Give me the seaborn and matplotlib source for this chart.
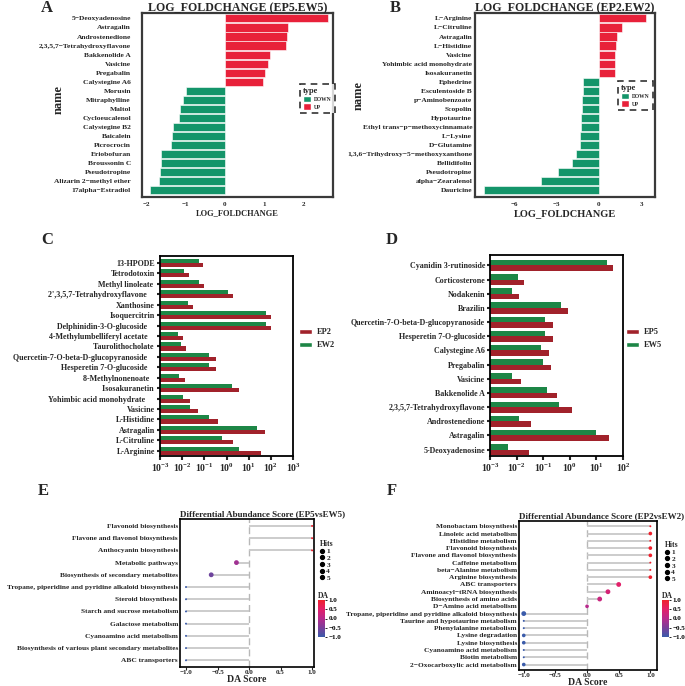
import numpy as np
import pandas as pd
import matplotlib
matplotlib.use('Agg')
import matplotlib.pyplot as plt
import seaborn as sns
from matplotlib.patches import Patch
from matplotlib.lines import Line2D
from matplotlib.colors import LinearSegmentedColormap, Normalize
from matplotlib.cm import ScalarMappable

sns.set_style('white')
plt.rcParams['font.family'] = ['Liberation Serif', 'DejaVu Serif']
plt.rcParams['font.weight'] = 'bold'
plt.rcParams['axes.labelweight'] = 'bold'
plt.rcParams['axes.titleweight'] = 'bold'
plt.rcParams['mathtext.fontset'] = 'custom'
plt.rcParams['mathtext.bf'] = 'Liberation Serif:bold'
plt.rcParams['mathtext.rm'] = 'Liberation Serif:bold'

# ---------------- data ----------------
# A: log fold change EP5 vs EW5
a_names = ['5−Deoxyadenosine', 'Astragalin', 'Androstenedione', '2,3,5,7−Tetrahydroxyflavone',
           'Bakkenolide A', 'Vasicine', 'Pregabalin', 'Calystegine A6', 'Morusin', 'Mitraphylline',
           'Maltol', 'Cycloeucalenol', 'Calystegine B2', 'Baicalein', 'Picrocrocin', 'Eriobofuran',
           'Broussonin C', 'Pseudotropine', 'Alizarin 2−methyl ether', '17alpha−Estradiol']
a_lfc = [2.64, 1.62, 1.59, 1.56, 1.15, 1.09, 1.02, 0.98, -1.00, -1.07,
         -1.15, -1.17, -1.33, -1.36, -1.39, -1.63, -1.63, -1.66, -1.68, -1.91]

# B: log fold change EP2 vs EW2
b_names = ['L−Arginine', 'L−Citruline', 'Astragalin', 'L−Histidine', 'Vasicine',
           'Yohimbic acid monohydrate', 'Isosakuranetin', 'Ephedrine', 'Esculentoside B',
           'p−Aminobenzoate', 'Scopolin', 'Hypotaurine', 'Ethyl trans−p−methoxycinnamate',
           'L−Lysine', 'D−Glutamine', '1,3,6−Trihydroxy−5−methoxyxanthone', 'Bellidifolin',
           'Pseudotropine', 'alpha−Zearalenol', 'Dauricine']
b_lfc = [3.33, 1.65, 1.25, 1.20, 1.16, 1.16, 1.16, -1.13, -1.16, -1.18,
         -1.23, -1.25, -1.30, -1.32, -1.35, -1.63, -1.89, -2.91, -4.14, -8.18]

# C: abundance EP2 / EW2
c_names = ['13-HPODE', 'Tetrodotoxin', 'Methyl linoleate ', "2',3,5,7-Tetrahydroxyflavone    ",
           'Xanthosine', 'Isoquercitrin', 'Delphinidin-3-O-glucoside    ',
           '4-Methylumbelliferyl acetate    ', 'Taurolithocholate ',
           'Quercetin-7-O-beta-D-glucopyranoside    ', 'Hesperetin 7-O-glucoside    ',
           '8-Methylnonenoate   ', 'Isosakuranetin ', 'Yohimbic acid monohydrate     ',
           'Vasicine', 'L-Histidine', 'Astragalin', 'L-Citruline', 'L-Arginine']
c_ew2 = [0.058, 0.012, 0.058, 1.12, 0.018, 59, 59, 0.0063, 0.0085, 0.17,
         0.17, 0.0069, 1.7, 0.011, 0.023, 0.17, 23, 0.65, 3.5]
c_ep2 = [0.089, 0.021, 0.10, 1.95, 0.032, 102, 102, 0.011, 0.015, 0.32,
         0.32, 0.013, 3.6, 0.023, 0.051, 0.40, 52, 1.95, 35]

# D: abundance EP5 / EW5
d_names = ['Cyanidin 3-rutinoside', 'Corticosterone', 'Nodakenin', 'Brazilin',
           'Quercetin-7-O-beta-D-glucopyranoside', 'Hesperetin 7-O-glucoside', 'Calystegine A6',
           'Pregabalin', 'Vasicine', 'Bakkenolide A', '2,3,5,7-Tetrahydroxyflavone',
           'Androstenedione', 'Astragalin', '5-Deoxyadenosine']
d_ew5 = [25, 0.011, 0.0066, 0.46, 0.12, 0.12, 0.083, 0.095, 0.0069, 0.14, 0.40, 0.012, 9.5, 0.0049]
d_ep5 = [41, 0.019, 0.012, 0.87, 0.23, 0.23, 0.17, 0.19, 0.015, 0.34, 1.17, 0.036, 29, 0.030]

# E: DA score EP5 vs EW5
e_names = ['Flavonoid biosynthesis', 'Flavone and flavonol biosynthesis', 'Anthocyanin biosynthesis',
           'Metabolic pathways', 'Biosynthesis of secondary metabolites',
           'Tropane, piperidine and pyridine alkaloid biosynthesis', 'Steroid biosynthesis',
           'Starch and sucrose metabolism', 'Galactose metabolism', 'Cyanoamino acid metabolism',
           'Biosynthesis of various plant secondary metabolites', 'ABC transporters']
e_da = [1.0, 1.0, 1.0, -0.2, -0.6, -1.0, -1.0, -1.0, -1.0, -1.0, -1.0, -1.0]
e_hits = [1, 1, 1, 3, 3, 1, 1, 1, 1, 1, 1, 1]

# F: DA score EP2 vs EW2
f_names = ['Monobactam biosynthesis', 'Linoleic acid metabolism', 'Histidine metabolism',
           'Flavonoid biosynthesis', 'Flavone and flavonol biosynthesis', 'Caffeine metabolism',
           'beta−Alanine metabolism', 'Arginine biosynthesis', 'ABC transporters',
           'Aminoacyl−tRNA biosynthesis', 'Biosynthesis of amino acids', 'D−Amino acid metabolism',
           'Tropane, piperidine and pyridine alkaloid biosynthesis',
           'Taurine and hypotaurine metabolism', 'Phenylalanine metabolism', 'Lysine degradation',
           'Lysine biosynthesis', 'Cyanoamino acid metabolism', 'Biotin metabolism',
           '2−Oxocarboxylic acid metabolism']
f_da = [1.0, 1.0, 1.0, 1.0, 1.0, 1.0, 1.0, 1.0, 0.5, 0.33, 0.2, 0.0,
        -1.0, -1.0, -1.0, -1.0, -1.0, -1.0, -1.0, -1.0]
f_hits = [1, 2, 1, 2, 2, 1, 1, 2, 3, 3, 3, 2, 3, 1, 1, 2, 2, 1, 1, 2]

hits_levels = [1, 2, 3, 4, 5]
da_ticks = [1.0, 0.5, 0.0, -0.5, -1.0]

# ---------------- style ----------------
RED = '#E8213A'
GREEN = '#14956A'
EP_RED = '#A1222B'
EW_GREEN = '#1D8646'
da_cmap = LinearSegmentedColormap.from_list(
    'da', ['#3A5BAA', '#7B3E9A', '#B82A8C', '#E2206A', '#F0202C'])
da_norm = Normalize(-1, 1)

W, H = 685, 686
fig = plt.figure(figsize=(W / 100, H / 100), dpi=100)


def add_ax(x0, y0, x1, y1):
    return fig.add_axes([x0 / W, 1 - y1 / H, (x1 - x0) / W, (y1 - y0) / H])


def lfc_panel(ax, names, lfc, title, xticks, xlim, xlabel_size, ylab_pad, name_xy, legend_xy):
    df = pd.DataFrame({'name': names, 'lfc': lfc})
    df['type'] = np.where(df['lfc'] > 0, 'UP', 'DOWN')
    sns.barplot(data=df, x='lfc', y='name', hue='type', dodge=False, orient='h',
                palette={'UP': RED, 'DOWN': GREEN}, width=0.9, saturation=1,
                edgecolor='white', linewidth=0.4, legend=False, ax=ax)
    ax.set_xlim(*xlim)
    ax.set_ylim(len(names) - 1 + 0.75, -0.6)
    ax.set_xticks(xticks)
    ax.tick_params(axis='x', labelsize=5, length=2, width=0.8, pad=1.5)
    ax.tick_params(axis='y', labelsize=5.4, length=0, pad=ylab_pad)
    for s in ax.spines.values():
        s.set_color('#3a3a3a')
        s.set_linewidth(1.6)
    ax.set_title(title, fontsize=8.6, pad=1.5)
    ax.set_xlabel('LOG_FOLDCHANGE', fontsize=xlabel_size, labelpad=2)
    ax.set_ylabel('name', fontsize=9)
    x0, y0 = ax.get_position().x0 * W, (1 - ax.get_position().y1) * H
    ax.yaxis.set_label_coords((name_xy[0] - x0) / ax.bbox.width * 1.0,
                              1 - (name_xy[1] - y0) / ax.bbox.height)
    leg = ax.legend(handles=[Patch(facecolor=GREEN, label='DOWN'), Patch(facecolor=RED, label='UP')],
                    title='type', loc='upper left', bbox_to_anchor=(legend_xy[0] / W, 1 - legend_xy[1] / H),
                    bbox_transform=fig.transFigure, fontsize=4, title_fontsize=6,
                    handlelength=1.4, handleheight=1.4, handletextpad=0.6, labelspacing=0.2,
                    borderpad=0.55, fancybox=False, alignment='left')
    fr = leg.get_frame()
    fr.set_linestyle((0, (4, 3)))
    fr.set_edgecolor('black')
    fr.set_linewidth(1.2)


def abundance_panel(ax, names, ep, ew, ep_lab, ew_lab, decades, legend_xy):
    df = pd.DataFrame({'name': names * 2, 'value': ew + ep,
                       'group': [ew_lab] * len(names) + [ep_lab] * len(names)})
    sns.barplot(data=df, x='value', y='name', hue='group', orient='h', saturation=1,
                hue_order=[ew_lab, ep_lab], palette={ep_lab: EP_RED, ew_lab: EW_GREEN},
                width=0.78, linewidth=0, legend=False, ax=ax)
    ax.set_xscale('log')
    ax.set_xlim(10.0 ** decades[0], 10.0 ** decades[-1])
    ax.set_xticks([10.0 ** d for d in decades], [r'$\mathbf{10^{%d}}$' % d for d in decades])
    ax.minorticks_off()
    ax.tick_params(axis='x', labelsize=7, length=3, width=1.5, pad=1, direction='out', bottom=True)
    ax.tick_params(axis='y', labelsize=5.8, length=2.5, width=1.5, pad=1, direction='out', left=True)
    for s in ax.spines.values():
        s.set_color('black')
        s.set_linewidth(1.3)
    ax.set_xlabel('')
    ax.set_ylabel('')
    ax.legend(handles=[Patch(facecolor=EP_RED, label=ep_lab), Patch(facecolor=EW_GREEN, label=ew_lab)],
              loc='upper left', bbox_to_anchor=(legend_xy[0] / W, 1 - legend_xy[1] / H),
              bbox_transform=fig.transFigure, frameon=False, fontsize=6,
              handlelength=1.5, handleheight=0.6, handletextpad=0.6, labelspacing=0.6, borderpad=0)


def da_panel(ax, names, da, hits, title, xlim, ylim_pad, hits_xy, cbar_box):
    df = pd.DataFrame({'name': names, 'da': da, 'hits': hits})
    ax.axvline(0, color='#B8B8B8', linestyle=(0, (5, 3)), linewidth=1.0, zorder=1)
    ax.hlines(df['name'], 0, df['da'], color='#C8C8C8', linewidth=1.3, zorder=2)
    sns.scatterplot(data=df, x='da', y='name', hue='da', hue_norm=da_norm, palette=da_cmap,
                    size='hits', size_norm=(1, 5), sizes=(2, 22), linewidth=0,
                    legend=False, zorder=3, ax=ax)
    ax.set_xlim(*xlim)
    ax.set_ylim(len(names) - 1 + ylim_pad[1], -ylim_pad[0])
    ax.set_xticks([-1.0, -0.5, 0.0, 0.5, 1.0], ['−1.0', '−0.5', '0.0', '0.5', '1.0'])
    ax.tick_params(axis='x', labelsize=5, length=2, width=0.8, pad=0.5, bottom=True)
    ax.tick_params(axis='y', labelsize=5.3, length=0, pad=1.5)
    for s in ax.spines.values():
        s.set_color('black')
        s.set_linewidth(1.2)
    ax.set_title(title, loc='left', fontsize=6.5, pad=2)
    ax.set_xlabel('DA Score', fontsize=7, labelpad=-0.5)
    ax.set_ylabel('')
    ax.legend(handles=[Line2D([], [], marker='o', color='black', linestyle='', markersize=2.8, label=str(h))
                       for h in hits_levels],
              title='Hits', loc='upper left', bbox_to_anchor=(hits_xy[0] / W, 1 - hits_xy[1] / H),
              bbox_transform=fig.transFigure, frameon=False, fontsize=5.3, title_fontsize=5.5,
              handlelength=0.6, handletextpad=0.3, labelspacing=0.07, borderpad=0, alignment='left')
    cax = add_ax(*cbar_box)
    cb = fig.colorbar(ScalarMappable(norm=da_norm, cmap=da_cmap), cax=cax, ticks=da_ticks)
    cb.outline.set_visible(False)
    cax.set_yticklabels(['1.0', '0.5', '0.0', '−0.5', '−1.0'])
    cax.tick_params(labelsize=5, length=1.5, width=0.6, colors='black', pad=1)
    cax.set_title('DA', fontsize=5.5, loc='left', pad=1.5)


# ---------------- panels ----------------
axA = add_ax(142, 13, 333, 197)
lfc_panel(axA, a_names, a_lfc, 'LOG_FOLDCHANGE (EP5.EW5)', [-2, -1, 0, 1, 2], (-2.12, 2.76), 6,
          8, (65, 100), (297, 81))

axB = add_ax(475, 13, 655, 197)
lfc_panel(axB, b_names, b_lfc, 'LOG_FOLDCHANGE (EP2.EW2)', [-6, -3, 0, 3], (-8.79, 3.97), 7.5,
          2, (365, 95), (615, 78))

axC = add_ax(160, 256, 293, 456)
abundance_panel(axC, c_names, c_ep2, c_ew2, 'EP2', 'EW2', [-3, -2, -1, 0, 1, 2, 3], (295, 324))
axC.set_ylim(len(c_names) - 1 + 0.5, -0.67)

axD = add_ax(490, 255, 623, 456)
abundance_panel(axD, d_names, d_ep5, d_ew5, 'EP5', 'EW5', [-3, -2, -1, 0, 1, 2], (622, 324))
axD.set_ylim(len(d_names) - 1 + 0.45, -0.74)

axE = add_ax(180, 519, 314, 667)
da_panel(axE, e_names, e_da, e_hits, 'Differential Abundance Score (EP5vsEW5)',
         (-1.095, 1.03), (0.57, 0.55), (316, 536), (318, 600, 325, 637))

axF = add_ax(519, 521, 657, 670)
da_panel(axF, f_names, f_da, f_hits, 'Differential Abundance Score (EP2vsEW2)',
         (-1.075, 1.105), (0.72, 0.75), (661, 537), (662, 600, 669, 637))

for letter, x, y in [('A', 47, 8), ('B', 395, 8), ('C', 47, 240), ('D', 392, 240), ('E', 43, 491), ('F', 392, 491)]:
    fig.text(x / W, 1 - y / H, letter, fontsize=12, fontweight='bold', ha='center', va='center')

fig.savefig('out.png', dpi=100)
